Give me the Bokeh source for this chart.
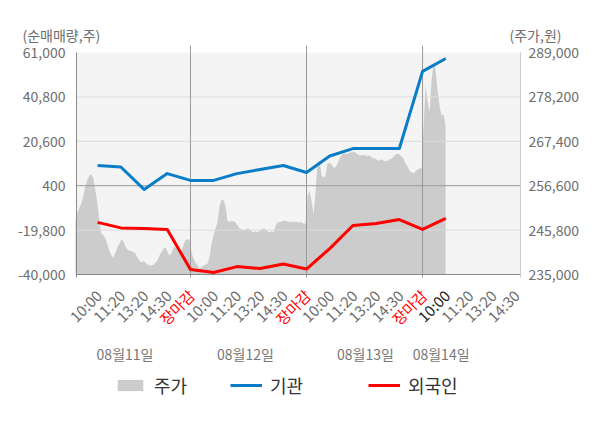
import numpy as np
from bokeh.plotting import figure
from bokeh.models import Range1d, ColumnDataSource, Legend, LegendItem
from bokeh.core.properties import value
from bokeh.embed import file_html
from bokeh.resources import INLINE

# ---------------- data ----------------
tick_labels = ["10:00", "11:20", "13:20", "14:30", "장마감",
               "10:00", "11:20", "13:20", "14:30", "장마감",
               "10:00", "11:20", "13:20", "14:30", "장마감",
               "10:00", "11:20", "13:20", "14:30"]
day_labels = ["08월11일", "08월12일", "08월13일", "08월14일"]

# net buying (shares) at each tick: institutions (기관) and foreigners (외국인)
inst_net = [9600, 8900, -1300, 5900, 2800, 2800, 5900, 7800, 9600, 6400,
            13900, 17300, 17300, 17300, 52400, 58300]
foreign_net = [-16300, -18800, -19100, -19500, -37700, -39100, -36400, -37300,
               -35200, -37500, -28200, -17700, -16800, -15000, -19500, -14500]

# intraday price (won)
price_day1 = [247700, 250100, 251300, 252300, 254200, 256400, 258100, 259100, 259300, 258400,
              255400, 252300, 247700, 245000, 244500, 243800, 242300, 240800, 239600, 239100,
              240400, 241600, 242500, 243500, 243000, 241800, 241100, 240800, 240800, 240400,
              240100, 239100, 238400, 237900, 238200, 237900, 237400, 237200, 237200, 237400,
              237900, 238400, 239600, 240400, 241300, 241600, 240600, 239600, 240100, 241600,
              241600, 241100, 240400, 240800, 242100, 243500, 243500, 243500]
price_day2 = [240400, 238900, 237900, 237400, 236500, 236700, 237200, 237400, 237700, 239100,
              242500, 244500, 246200, 247700, 251500, 253200, 253200, 251800, 248100, 247700,
              248100, 247900, 247700, 246900, 246200, 246000, 245700, 246000, 246200, 246000,
              245500, 245200, 245500, 245200, 245500, 246000, 246200, 246000, 245500, 245200,
              245500, 245200, 246700, 247700, 247700, 247900, 248100, 248100, 247900, 247700,
              247900, 247700, 247900, 247700, 247700, 247700, 247400, 247400]
price_day3 = [254200, 255400, 253000, 249800, 255000, 262200, 262700, 259100, 258600, 259100,
              262000, 262200, 261800, 261000, 261000, 262000, 263200, 264000, 264400, 264400,
              264400, 264700, 264700, 264900, 264700, 264200, 264000, 264000, 264000, 264000,
              263700, 264000, 263500, 263200, 263200, 262700, 262700, 263000, 262700, 262500,
              262700, 263000, 263200, 263700, 264200, 264400, 264200, 263700, 263200, 262000,
              261300, 260300, 259800, 259600, 260100, 260500, 260800, 260800]
price_day4 = [270800, 281000, 277300, 274400, 282200, 286600, 284600, 279800, 276100, 273700,
              273900, 271200]

left_ticks = [-40000, -19800, 400, 20600, 40800, 61000]
right_ticks = [235000, 245800, 256600, 267400, 278200, 289000]

# ---------------- layout / style ----------------
FONT = "Noto Sans CJK KR"
GRAY_TXT = "#6e6e6e"
AXIS_CLR = "#8a8a8a"
SLOTS = 5                 # tick slots per trading day
W, H = 600, 428
CH_L, CH_R, CH_T, CH_B = 76, 520, 52, 274   # value-area box in pixels
X0, X1 = 0.09, 19.22
date_label_x = [2.18, 7.37, 12.54, 15.8]

LB, LT = left_ticks[0], left_ticks[-1]
RB, RT = right_ticks[0], right_ticks[-1]
xpx = (X1 - X0) / (CH_R - CH_L)
lpx = (LT - LB) / (CH_B - CH_T)
rpx = (RT - RB) / (CH_B - CH_T)

p = figure(width=W, height=H,
           x_range=Range1d(X0 - CH_L * xpx, X1 + (W - CH_R) * xpx),
           y_range=Range1d(LB - (H - CH_B) * lpx, LT + CH_T * lpx),
           output_backend="svg", toolbar_location=None, min_border=0,
           x_axis_type=None, y_axis_type=None,
           background_fill_color="white", border_fill_color="white",
           outline_line_color=None)
p.extra_y_ranges = {"price": Range1d(RB - (H - CH_B) * rpx, RT + CH_T * rpx)}
p.grid.visible = False

# chart background
p.quad(left=[X0], right=[X1], bottom=[LB], top=[LT], fill_color="#f4f4f4", line_color=None)

# price area
xs, ys = [], []
per_day = len(price_day1)
for d, arr in enumerate([price_day1, price_day2, price_day3, price_day4]):
    for k, v in enumerate(arr):
        xs.append(d * SLOTS + (k + 0.5) * SLOTS / per_day)
        ys.append(v)
price_src = ColumnDataSource(dict(x=xs, top=ys, base=[RB] * len(ys)))
area = p.varea(x="x", y1="base", y2="top", source=price_src, y_range_name="price",
               fill_color="#cccccc")

# grid lines (drawn above the area)
mid = [t for t in left_ticks[1:-1] if t != 400]
p.segment(x0=[X0] * len(mid), x1=[X1] * len(mid), y0=mid, y1=mid,
          line_color="#dcdcdc", line_width=1)
p.segment(x0=[X0], x1=[X1], y0=[400], y1=[400], line_color="#9a9a9a", line_width=1)
bounds = [SLOTS, 2 * SLOTS, 3 * SLOTS]
p.segment(x0=bounds, x1=bounds, y0=[LB - 3 * lpx] * 3, y1=[LT + 7 * lpx] * 3,
          line_color="#9a9a9a", line_width=1)
# axis lines
p.segment(x0=[X0, X0], x1=[X1, X0], y0=[LB, LB - 3 * lpx], y1=[LB, LT],
          line_color=AXIS_CLR, line_width=1)
p.segment(x0=[X1], x1=[X1], y0=[LB - 3 * lpx], y1=[LT], line_color="#cccccc", line_width=1)

pos = list(range(1, len(inst_net) + 1))
blue = p.line(pos, inst_net, line_color="#0a7dc8", line_width=3, line_join="round")
red = p.line(pos, foreign_net, line_color="#ff0000", line_width=3, line_join="round")

# y tick labels (left: net volume, right: price)
p.text(x=[X0] * len(left_ticks), y=left_ticks, text=[f"{t:,}" for t in left_ticks],
       x_offset=-11, text_align="right", text_baseline="middle",
       text_font=value(FONT), text_font_size="14px", text_color=GRAY_TXT)
p.text(x=[X1] * len(right_ticks), y=right_ticks, text=[f"{t:,}" for t in right_ticks],
       y_range_name="price", x_offset=8, text_align="left", text_baseline="middle",
       text_font=value(FONT), text_font_size="14px", text_color=GRAY_TXT)

# axis titles
p.text(x=[X0], y=[LT], text=["(순매매량,주)"], x_offset=-54, y_offset=-18,
       text_align="left", text_baseline="middle",
       text_font=value(FONT), text_font_size="14px", text_color=GRAY_TXT)
p.text(x=[X1], y=[LT], text=["(주가,원)"], x_offset=-11, y_offset=-18,
       text_align="left", text_baseline="middle",
       text_font=value(FONT), text_font_size="14px", text_color=GRAY_TXT)

# x tick labels
tick_colors = []
for i, t in enumerate(tick_labels):
    if t == "장마감":
        tick_colors.append("#ff0000")
    elif i == 3 * SLOTS:
        tick_colors.append("#222222")
    else:
        tick_colors.append(GRAY_TXT)
tick_src = ColumnDataSource(dict(x=list(range(1, len(tick_labels) + 1)),
                                 y=[LB] * len(tick_labels),
                                 text=tick_labels, color=tick_colors))
p.text(x="x", y="y", text="text", source=tick_src, angle=np.pi / 4,
       text_align="right", text_baseline="middle", x_offset=1, y_offset=18,
       text_color="color", text_font=value(FONT), text_font_size="15px")

# day labels
p.text(x=date_label_x, y=[LB] * len(day_labels), text=day_labels,
       text_align="center", text_baseline="middle", y_offset=79,
       text_color="#777777", text_font=value(FONT), text_font_size="14px")

# legends
for name, rend, loc in [("주가", area, (114, 30)), ("기관", blue, (230, 30)),
                        ("외국인", red, (368, 30))]:
    lg = Legend(items=[LegendItem(label=name, renderers=[rend])], location=loc,
                orientation="horizontal", glyph_width=32, glyph_height=14,
                label_standoff=8, padding=0, margin=0, border_line_color=None,
                background_fill_alpha=0, label_text_font=FONT,
                label_text_font_size="18px", label_text_color="#333333")
    p.add_layout(lg)

open("out.html", "w").write(file_html(p, INLINE))
